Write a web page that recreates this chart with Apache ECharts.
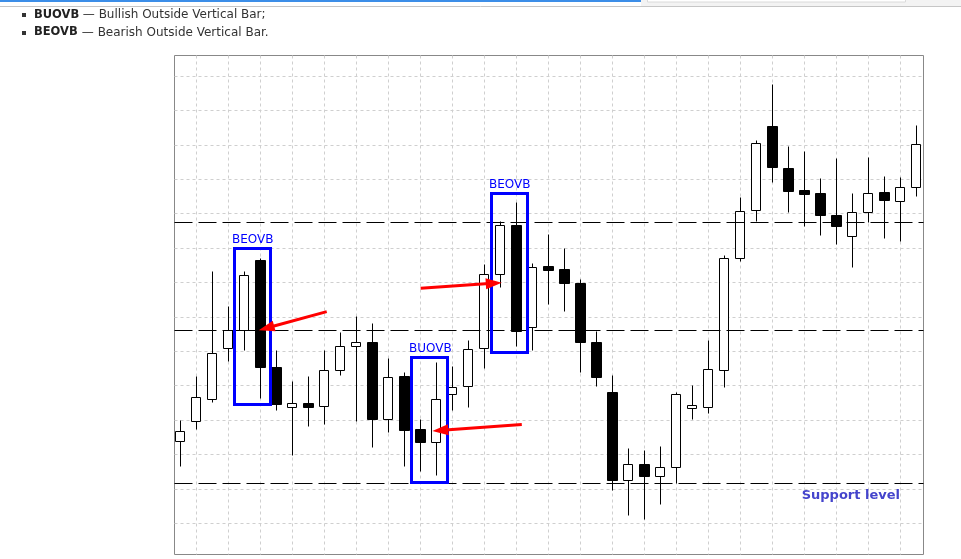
<!DOCTYPE html>
<html>
<head>
<meta charset="utf-8">
<script src="https://cdn.jsdelivr.net/npm/echarts@6/dist/echarts.min.js"></script>
<style>
html,body{margin:0;padding:0;background:#ffffff;}
#chart{width:961px;height:559px;}
</style>
</head>
<body>
<div id="chart"></div>
<script>
// ---------- data (price units; grid step = 10) ----------
const candleIndex = [0,1,2,3,4,5,6,7,8,9,10,11,12,13,14,15,16,17,18,19,20,21,22,23,24,25,26,27,28,29,30,31,32,33,34,35,36,37,38,39,40,41,42,43,44,45,46];
const opens  = [33.9,39.7,46.1,60.9,66.2,86.6,55.4,43.8,44.9,44.0,54.5,61.5,62.5,40.3,52.6,37.2,33.5,47.6,49.9,60.9,82.4,96.7,67.0,84.6,83.7,79.9,62.7,48.2,22.6,27.2,23.7,26.3,43.5,43.8,54.5,87.1,101.0,125.3,113.3,106.7,105.8,99.5,93.4,100.5,106.1,103.7,107.7];
const closes = [36.7,46.7,59.5,66.0,82.2,55.3,44.5,44.9,43.7,54.5,61.5,62.5,40.2,52.5,37.0,33.5,46.1,49.6,60.6,82.4,96.7,65.8,84.5,83.5,79.7,62.6,52.4,22.4,27.2,23.6,26.4,47.6,44.4,54.8,87.1,100.8,120.5,113.4,106.5,105.6,99.5,96.3,100.5,106.0,103.8,107.8,120.2];
const lows   = [26.5,37.3,45.1,57.0,60.4,46.4,42.8,29.7,38.1,38.7,52.9,39.6,32.0,36.4,26.5,25.1,23.9,42.8,43.7,55.1,78.7,61.4,60.2,73.6,71.6,53.8,49.8,19.5,12.3,11.2,15.6,21.7,40.3,41.9,49.5,86.1,97.9,109.1,100.3,96.3,93.7,91.0,84.4,97.6,92.8,91.9,105.0];
const highs  = [39.8,52.6,83.4,73.2,83.4,86.9,60.4,51.4,52.6,60.2,65.4,70.1,68.1,58.1,53.8,40.3,56.9,55.6,63.1,85.3,97.7,103.4,85.6,93.9,89.8,80.8,65.8,53.0,31.7,31.1,32.5,48.0,50.0,63.3,87.8,104.7,121.2,137.5,119.7,118.0,110.4,116.0,105.8,116.3,111.0,110.5,125.8];

// grid tick positions
const gridTicksX = [1,3,5,7,9,11,13,15,17,19,21,23,25,27,29,31,33,35,37,39,41,43,45];
const gridTicksY = [10,20,30,40,50,60,70,80,90,100,110,120,130,140];

// horizontal levels
const levelValues = [97.6, 66.2, 21.7];
const levelLabels = ['', '', 'Support level'];

// pattern boxes
const boxLabels = ['BEOVB', 'BEOVB', 'BUOVB'];
const boxLeft   = [3.39, 19.45, 14.43];
const boxRight  = [5.64, 21.70, 16.66];
const boxTop    = [89.9, 105.8, 58.4];
const boxBottom = [44.5, 59.6, 21.8];

// arrows
const arrowFromX = [9.14, 15.01, 21.33];
const arrowFromY = [71.6, 78.4, 38.8];
const arrowToX   = [4.89, 20.08, 15.74];
const arrowToY   = [66.2, 80.0, 36.9];

// axis extents
const X_MIN = -0.375, X_MAX = 46.4375;
const Y_MIN = 0.99, Y_MAX = 146.05;

// ---------- chart ----------
const chart = echarts.init(document.getElementById('chart'), null, {renderer: 'canvas'});

function crisp(v) { return Math.round(v - 0.5) + 0.5; }

function renderCandle(params, api) {
  const x = api.value(0), o = api.value(1), c = api.value(2), lo = api.value(3), hi = api.value(4);
  const pO = api.coord([x, o]), pC = api.coord([x, c]), pL = api.coord([x, lo]), pH = api.coord([x, hi]);
  const cx = crisp(pO[0]);
  const top = crisp(Math.min(pO[1], pC[1]));
  const bot = crisp(Math.max(pO[1], pC[1]));
  const bull = c >= o;
  return {
    type: 'group',
    children: [
      {type: 'line', shape: {x1: cx, y1: crisp(pH[1]), x2: cx, y2: crisp(pL[1])},
       style: {stroke: '#000', lineWidth: 1}},
      {type: 'rect', shape: {x: cx - 5, y: top, width: bull ? 9 : 10, height: Math.max(bot - top, 2)},
       style: {fill: bull ? '#ffffff' : '#000000', stroke: '#000', lineWidth: 1}}
    ]
  };
}

function renderVGrid(params, api) {
  const cs = params.coordSys;
  const p = api.coord([api.value(0), api.value(1)]);
  const x = crisp(p[0]);
  return {type: 'line', shape: {x1: x, y1: cs.y, x2: x, y2: cs.y + cs.height},
          style: {stroke: '#cfcfcf', lineWidth: 1, lineDash: [3, 3]}, silent: true};
}
function renderHGrid(params, api) {
  const cs = params.coordSys;
  const p = api.coord([api.value(0), api.value(1)]);
  const y = crisp(p[1]);
  return {type: 'line', shape: {x1: cs.x, y1: y, x2: cs.x + cs.width, y2: y},
          style: {stroke: '#cfcfcf', lineWidth: 1, lineDash: [3, 3]}, silent: true};
}

function renderLevel(params, api) {
  const cs = params.coordSys;
  const p = api.coord([api.value(0), api.value(1)]);
  const y = crisp(p[1]);
  const children = [{type: 'line', shape: {x1: cs.x, y1: y, x2: cs.x + cs.width, y2: y},
                     style: {stroke: '#000', lineWidth: 1, lineDash: [18, 6]}}];
  const lab = levelLabels[params.dataIndex];
  if (lab) {
    children.push({type: 'text', x: cs.x + cs.width - 23.5, y: y + 12,
      style: {text: lab, fill: '#4444cc', font: 'bold 13px "DejaVu Sans"', align: 'right', verticalAlign: 'middle'}});
  }
  return {type: 'group', children: children};
}

function renderBox(params, api) {
  const p0 = api.coord([api.value(0), api.value(2)]);
  const p1 = api.coord([api.value(1), api.value(3)]);
  const x0 = crisp(p0[0]), y0 = crisp(p0[1]), x1 = crisp(p1[0]), y1 = crisp(p1[1]);
  return {
    type: 'group',
    children: [
      {type: 'rect', shape: {x: x0, y: y0, width: x1 - x0, height: y1 - y0},
       style: {fill: null, stroke: '#0000ff', lineWidth: 3}},
      {type: 'text', x: x0 - 2.5, y: y0 - 9,
       style: {text: boxLabels[params.dataIndex], fill: '#0000ff', font: '12px "DejaVu Sans"', align: 'left', verticalAlign: 'middle'}}
    ]
  };
}

function renderArrow(params, api) {
  const a = api.coord([api.value(0), api.value(1)]);
  const b = api.coord([api.value(2), api.value(3)]);
  const dx = b[0] - a[0], dy = b[1] - a[1];
  const L = Math.sqrt(dx * dx + dy * dy);
  const ux = dx / L, uy = dy / L, nx = -uy, ny = ux;
  const HL = 16, HW = 5.5;
  const bx = b[0] - ux * HL, by = b[1] - uy * HL;
  return {
    type: 'group',
    children: [
      {type: 'line', shape: {x1: a[0], y1: a[1], x2: bx + ux * 3, y2: by + uy * 3},
       style: {stroke: '#ff0000', lineWidth: 3}},
      {type: 'polygon', shape: {points: [[b[0], b[1]], [bx + nx * HW, by + ny * HW], [bx - nx * HW, by - ny * HW]]},
       style: {fill: '#ff0000'}}
    ]
  };
}

const candleRows = candleIndex.map((x, i) => [x, opens[i], closes[i], lows[i], highs[i]]);
const boxRows = boxLabels.map((_, i) => [boxLeft[i], boxRight[i], boxTop[i], boxBottom[i]]);
const arrowRows = arrowFromX.map((_, i) => [arrowFromX[i], arrowFromY[i], arrowToX[i], arrowToY[i]]);

const option = {
  animation: false,
  backgroundColor: '#ffffff',
  grid: {left: 174.5, top: 55.5, width: 749, height: 499, show: true,
         borderColor: '#888888', borderWidth: 1, backgroundColor: 'transparent'},
  xAxis: {type: 'value', min: X_MIN, max: X_MAX, show: false},
  yAxis: {type: 'value', min: Y_MIN, max: Y_MAX, show: false},
  series: [
    {type: 'custom', name: 'vgrid', z: 1, silent: true, renderItem: renderVGrid,
     data: gridTicksX.map(v => [v, Y_MIN])},
    {type: 'custom', name: 'hgrid', z: 1, silent: true, renderItem: renderHGrid,
     data: gridTicksY.map(v => [X_MIN, v])},
    {type: 'custom', name: 'candles', z: 2, renderItem: renderCandle,
     encode: {x: 0, y: [1, 2, 3, 4]}, data: candleRows},
    {type: 'custom', name: 'levels', z: 3, silent: true, renderItem: renderLevel,
     data: levelValues.map(v => [X_MIN, v])},
    {type: 'custom', name: 'boxes', z: 4, silent: true, renderItem: renderBox,
     encode: {x: [0, 1], y: [2, 3]}, data: boxRows},
    {type: 'custom', name: 'arrows', z: 5, silent: true, renderItem: renderArrow,
     encode: {x: [0, 2], y: [1, 3]}, data: arrowRows}
  ],
  graphic: [
    {type: 'rect', left: 641, top: 0, shape: {width: 320, height: 7}, style: {fill: '#f3f3f3'}, silent: true},
    {type: 'rect', left: 647, top: -3, shape: {width: 258, height: 4.5}, style: {fill: '#ffffff', stroke: '#dadada', lineWidth: 1}, silent: true},
    {type: 'rect', left: 0, top: 0, shape: {width: 641, height: 2}, style: {fill: '#3c8ee8'}, silent: true},
    {type: 'line', shape: {x1: 0, y1: 6.5, x2: 961, y2: 6.5}, style: {stroke: '#c6c6c6', lineWidth: 1}, silent: true},
    {type: 'rect', x: 22, y: 13, shape: {width: 4, height: 4}, style: {fill: '#333333'}, silent: true},
    {type: 'rect', x: 22, y: 31, shape: {width: 4, height: 4}, style: {fill: '#333333'}, silent: true},
    {type: 'text', x: 34, y: 15, style: {text: 'BUOVB', font: 'bold 11.5px "DejaVu Sans"', fill: '#222222', verticalAlign: 'middle'}, silent: true},
    {type: 'text', x: 79, y: 15, style: {text: ' \u2014 Bullish Outside Vertical Bar;', font: '12px "DejaVu Sans"', fill: '#333333', verticalAlign: 'middle'}, silent: true},
    {type: 'text', x: 34, y: 32.5, style: {text: 'BEOVB', font: 'bold 11.5px "DejaVu Sans"', fill: '#222222', verticalAlign: 'middle'}, silent: true},
    {type: 'text', x: 78, y: 32.5, style: {text: ' \u2014 Bearish Outside Vertical Bar.', font: '12px "DejaVu Sans"', fill: '#333333', verticalAlign: 'middle'}, silent: true}
  ]
};
chart.setOption(option);
</script>
</body>
</html>
